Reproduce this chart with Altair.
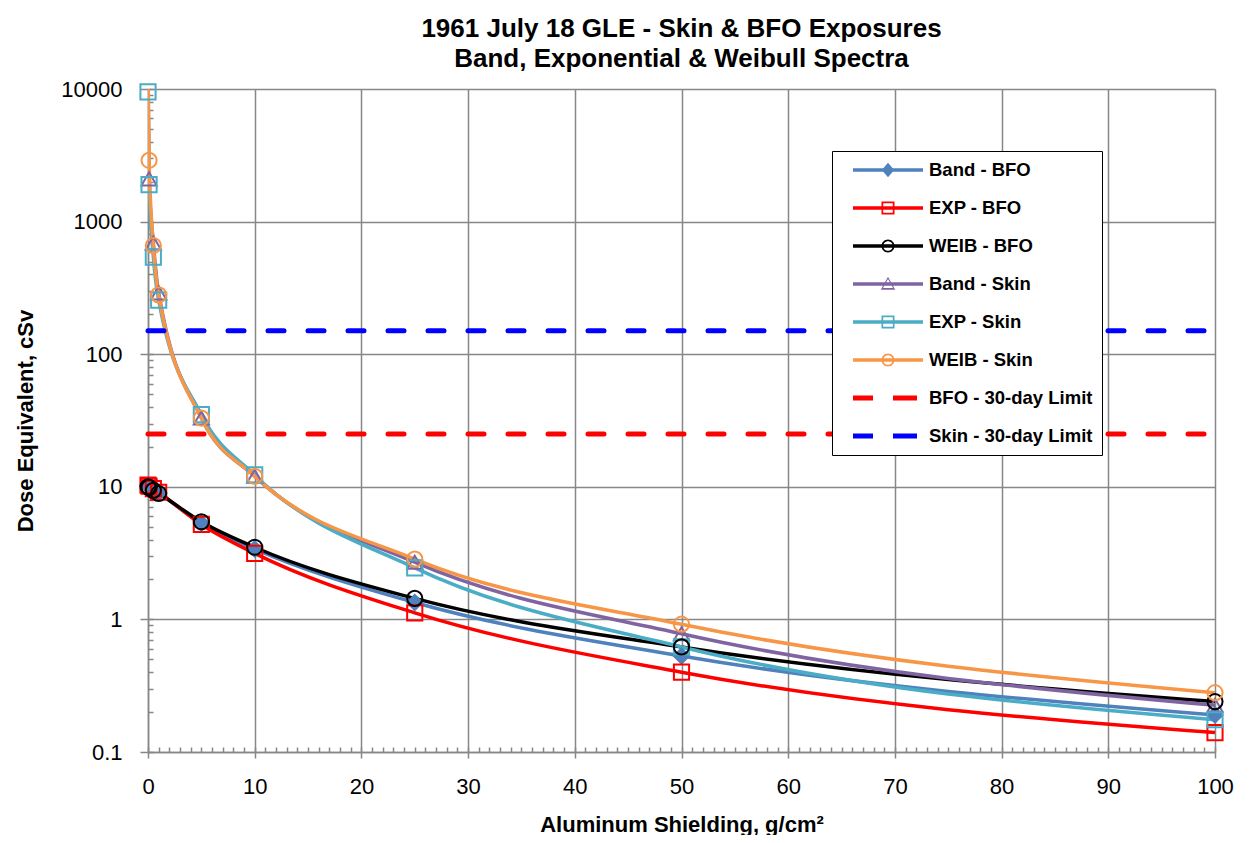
import altair as alt
import pandas as pd

# ---------------- data ----------------
thickness = [0, 0.1, 0.5, 1, 5, 10, 25, 50, 100]
band_bfo  = [10.2, 10.0, 9.6, 9.0, 5.3, 3.4, 1.34, 0.53, 0.19]
exp_bfo   = [10.3, 10.1, 9.7, 9.1, 5.2, 3.15, 1.12, 0.40, 0.14]
weib_bfo  = [10.0, 9.9, 9.4, 8.9, 5.45, 3.5, 1.44, 0.62, 0.24]
band_skin = [12000, 2100, 690, 290, 33, 12.0, 2.7, 0.78, 0.225]
exp_skin  = [9500, 1900, 540, 256, 35, 12.3, 2.45, 0.62, 0.175]
weib_skin = [15000, 2900, 660, 280, 33, 12.0, 2.85, 0.92, 0.28]

limit_x = [0, 100]
bfo_limit = 25
skin_limit = 150

names = ["Band - BFO", "EXP - BFO", "WEIB - BFO", "Band - Skin", "EXP - Skin",
         "WEIB - Skin", "BFO - 30-day Limit", "Skin - 30-day Limit"]
colors = ["#4F81BD", "#FF0000", "#000000", "#8064A2", "#4BACC6", "#F79646",
          "#FF0000", "#0000FF"]
x_ticks = list(range(0, 101, 10))
y_ticks = [0.1, 1, 10, 100, 1000, 10000]

series_values = [band_bfo, exp_bfo, weib_bfo, band_skin, exp_skin, weib_skin]
curves = pd.DataFrame(
    [{"series": n, "x": x, "y": y}
     for n, vals in zip(names[:6], series_values)
     for x, y in zip(thickness, vals)]
)
limits = pd.DataFrame(
    [{"series": names[6], "x": x, "y": bfo_limit} for x in limit_x]
    + [{"series": names[7], "x": x, "y": skin_limit} for x in limit_x]
)
legend_df = pd.DataFrame({"series": names, "x": [-50] * 8, "y": [1] * 8})

# ---------------- styling helpers ----------------
GRAY = "#878787"
FONT = "Liberation Sans"


def f(v):
    return f"{v:.3f}"


def rect(x0, x1, y0, y1, cw=True):
    if cw:
        return f"M{f(x0)},{f(y0)}H{f(x1)}V{f(y1)}H{f(x0)}Z"
    return f"M{f(x0)},{f(y0)}V{f(y1)}H{f(x1)}V{f(y0)}Z"


def circle(r, cw=True):
    k = 0.5523 * r
    if cw:
        return (f"M{f(r)},0C{f(r)},{f(k)} {f(k)},{f(r)} 0,{f(r)}"
                f"C{f(-k)},{f(r)} {f(-r)},{f(k)} {f(-r)},0"
                f"C{f(-r)},{f(-k)} {f(-k)},{f(-r)} 0,{f(-r)}"
                f"C{f(k)},{f(-r)} {f(r)},{f(-k)} {f(r)},0Z")
    return (f"M{f(r)},0C{f(r)},{f(-k)} {f(k)},{f(-r)} 0,{f(-r)}"
            f"C{f(-k)},{f(-r)} {f(-r)},{f(-k)} {f(-r)},0"
            f"C{f(-r)},{f(k)} {f(-k)},{f(r)} 0,{f(r)}"
            f"C{f(k)},{f(r)} {f(r)},{f(k)} {f(r)},0Z")


def triangle(a, cw=True):
    top, bx, by = -a, a * 1.0, a * 0.8
    if cw:
        return f"M0,{f(top)}L{f(bx)},{f(by)}L{f(-bx)},{f(by)}Z"
    return f"M0,{f(top)}L{f(-bx)},{f(by)}L{f(bx)},{f(by)}Z"


line_seg = rect(-3.5, 3.5, -0.18, 0.18)
ro, ri = 0.65, 0.48
p_diamond = line_seg + "M0,-0.72L0.62,0L0,0.72L-0.62,0Z"
p_square = line_seg + rect(-ro, ro, -ro, ro, True) + rect(-ri, ri, -ri, ri, False)
p_circle = line_seg + circle(ro, True) + circle(ri, False)
p_triangle = line_seg + triangle(0.72, True) + triangle(0.5, False)
p_dash = rect(-3.5, -1.5, -0.25, 0.25) + rect(0.5, 2.9, -0.25, 0.25)
legend_paths = [p_diamond, p_square, p_circle, p_triangle, p_square, p_circle,
                p_dash, p_dash]

x_scale = alt.Scale(domain=[0, 100], nice=False, zero=False)
y_scale = alt.Scale(type="log", domain=[0.1, 10000], nice=False)
color_scale = alt.Scale(domain=names, range=colors)
# visible marks use stroke/fill channels (reversed order -> separate, hidden legends)
paint_scale = alt.Scale(domain=names[::-1], range=colors[::-1])

main_x_axis = alt.Axis(
    values=x_ticks, format="d", grid=True, gridColor=GRAY, gridWidth=1.5,
    domainColor=GRAY, domainWidth=1.5, tickColor=GRAY, tickWidth=1.5, tickSize=6,
    labelFontSize=22, labelPadding=18, labelColor="black", labelFont=FONT,
    labelFlush=False,
    title="Aluminum Shielding, g/cm²", titleFontSize=22, titleFontWeight="bold",
    titleColor="black", titleFont=FONT, titleX=533.5, titleY=72,
    titleBaseline="middle",
)
main_y_axis = alt.Axis(
    values=y_ticks, format="~g", grid=True, gridColor=GRAY, gridWidth=1.5,
    domainColor=GRAY, domainWidth=1.5, tickColor=GRAY, tickWidth=1.5, tickSize=8,
    labelFontSize=22, labelPadding=18, labelColor="black", labelFont=FONT,
    labelFlush=False,
    title="Dose Equivalent, cSv", titleFontSize=22, titleFontWeight="bold",
    titleColor="black", titleFont=FONT, titleX=-123, titleY=331.5,
    titleBaseline="middle", titleAngle=270,
)
minor_x_axis = alt.Axis(
    orient="bottom", values=list(range(0, 101)), offset=-5, tickSize=5,
    labels=False, domain=False, grid=False, title=None, tickColor=GRAY,
    tickWidth=1.5,
)
minor_y_vals = [m * 10 ** k for k in range(-1, 4) for m in range(1, 10)] + [10000]
minor_y_axis = alt.Axis(
    orient="left", values=minor_y_vals, offset=-5, tickSize=5,
    labels=False, domain=False, grid=False, title=None, tickColor=GRAY,
    tickWidth=1.5,
)

stroke_enc = alt.Stroke("series:N", scale=paint_scale, legend=None)

lines = alt.Chart(curves).mark_line(
    interpolate="monotone", strokeWidth=3.5, clip=True
).encode(
    x=alt.X("x:Q", scale=x_scale, axis=main_x_axis),
    y=alt.Y("y:Q", scale=y_scale, axis=main_y_axis),
    stroke=stroke_enc,
)

limit_layer = alt.Chart(limits).mark_line(
    strokeWidth=5, strokeDash=[16, 24], strokeCap="round"
).encode(
    x=alt.X("x:Q", scale=x_scale, axis=minor_x_axis),
    y=alt.Y("y:Q", scale=y_scale, axis=minor_y_axis),
    stroke=stroke_enc,
)


def markers(series_list, shape, filled):
    enc = dict(
        x=alt.X("x:Q", scale=x_scale, axis=None),
        y=alt.Y("y:Q", scale=y_scale, axis=None),
        stroke=stroke_enc,
    )
    if filled:
        enc["fill"] = alt.Fill("series:N", scale=paint_scale, legend=None)
    return alt.Chart(curves).transform_filter(
        alt.FieldOneOfPredicate(field="series", oneOf=series_list)
    ).transform_filter("datum.y <= 10000").mark_point(
        shape=shape, filled=filled, size=230, strokeWidth=2, opacity=1
    ).encode(**enc)


pts_diamond = markers(["Band - BFO"], "diamond", True)
pts_tri = markers(["Band - Skin"], "triangle-up", False)
pts_sq = markers(["EXP - BFO", "EXP - Skin"], "square", False)
pts_circ = markers(["WEIB - BFO", "WEIB - Skin"], "circle", False)

leg = alt.Legend(
    title=None, orient="none", legendX=684, legendY=62, fillColor="white",
    strokeColor="black", padding=9, rowPadding=18, symbolSize=400,
    symbolStrokeWidth=0, symbolOffset=37, labelOffset=31, labelFontSize=18.5,
    labelFontWeight="bold", labelFont=FONT, labelColor="black", labelLimit=400,
    symbolOpacity=1,
)
legend_layer = alt.Chart(legend_df).mark_point(
    filled=True, size=400, clip=True, opacity=1
).encode(
    x=alt.X("x:Q", scale=x_scale, axis=None),
    y=alt.Y("y:Q", scale=y_scale, axis=None),
    color=alt.Color("series:N", scale=color_scale, legend=leg),
    shape=alt.Shape("series:N", scale=alt.Scale(domain=names, range=legend_paths),
                    legend=leg),
)

chart = alt.layer(
    lines, limit_layer, pts_diamond, pts_tri, pts_sq, pts_circ, legend_layer
).resolve_axis(
    x="independent", y="independent"
).properties(
    width=1067, height=663,
    autosize=alt.AutoSizeParams(type="none"),
    padding={"left": 140, "top": 81, "right": 34, "bottom": 83},
    title=alt.Title(
        text=["1961 July 18 GLE - Skin & BFO Exposures",
              "Band, Exponential & Weibull Spectra"],
        fontSize=26, fontWeight="bold", font=FONT, anchor="middle",
        offset=6, lineHeight=30, color="black",
    ),
).configure(font=FONT).configure_view(stroke=None)

chart.save("out.html", embed_options={"renderer": "svg", "actions": False})
